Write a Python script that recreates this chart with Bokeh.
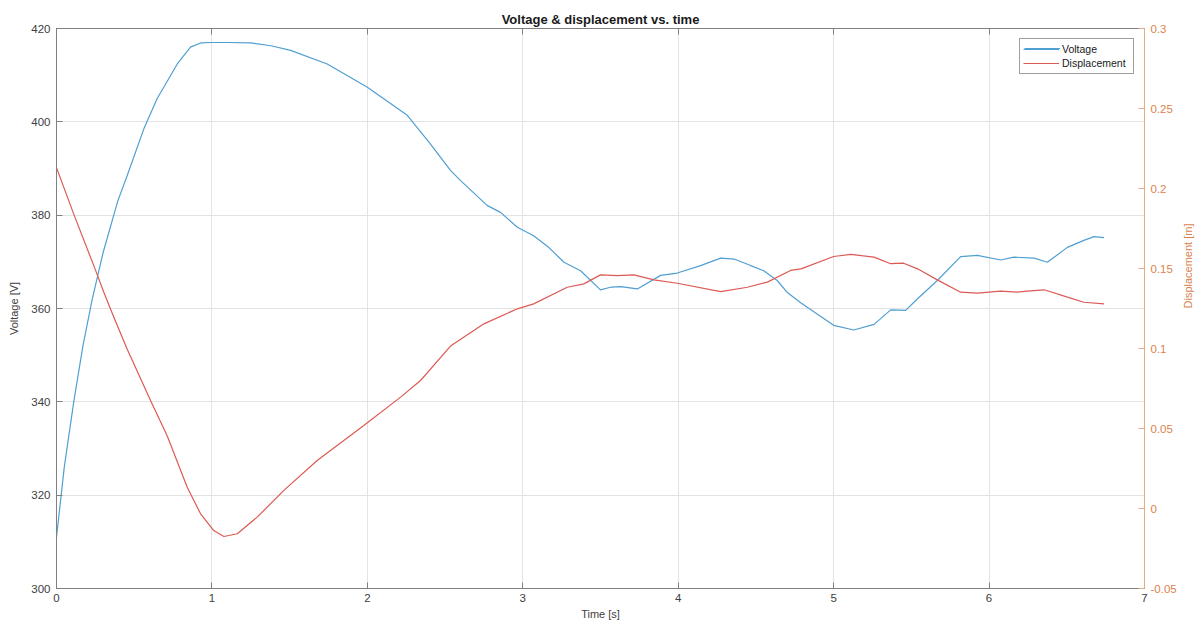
import math
from bokeh.plotting import figure
from bokeh.models import (Range1d, LinearAxis, FixedTicker, CustomJSTickFormatter,
                          Legend, LegendItem)
from bokeh.embed import file_html
from bokeh.resources import INLINE

# ---- data ----
volt_t = [0, 0.05, 0.111, 0.17, 0.23, 0.30, 0.394, 0.455, 0.562, 0.648, 0.777, 0.862,
          0.927, 1.0, 1.1, 1.248, 1.38, 1.506, 1.742, 2.0, 2.257, 2.4, 2.535, 2.6,
          2.77, 2.857, 2.965, 3.07, 3.17, 3.265, 3.372, 3.5, 3.57, 3.63, 3.737, 3.887,
          3.994, 4.144, 4.273, 4.36, 4.466, 4.55, 4.637, 4.70, 4.79, 5.0, 5.13, 5.26,
          5.367, 5.463, 5.54, 5.667, 5.817, 5.925, 6.075, 6.16, 6.29, 6.375, 6.504,
          6.61, 6.675, 6.74]
voltage = [311, 326, 340, 352, 362, 372, 383, 388.5, 398.5, 405.0, 412.4, 416,
           416.9, 417, 417, 416.9, 416.3, 415.3, 412.4, 407.4, 401.4, 395.5, 389.6, 387.4,
           382.1, 380.6, 377.4, 375.6, 373, 369.9, 368.1, 364, 364.6, 364.7, 364.2, 367.1,
           367.6, 369.2, 370.8, 370.6, 369.2, 368.1, 366, 363.5, 361.2, 356.4, 355.4, 356.6,
           359.7, 359.6, 362.1, 366, 371.1, 371.4, 370.4, 371, 370.8, 369.9, 373.1,
           374.6, 375.4, 375.2]

disp_t = [0, 0.111, 0.251, 0.305, 0.369, 0.455, 0.605, 0.712, 0.841, 0.927, 1.012,
          1.077, 1.163, 1.291, 1.463, 1.677, 1.977, 2.214, 2.342, 2.535, 2.75, 2.965,
          3.07, 3.286, 3.393, 3.5, 3.608, 3.715, 3.844, 3.994, 4.273, 4.445, 4.573,
          4.723, 4.79, 5.0, 5.11, 5.26, 5.367, 5.45, 5.54, 5.667, 5.817, 5.925, 6.075,
          6.18, 6.246, 6.354, 6.504, 6.61, 6.74]
displacement = [0.213, 0.184, 0.149, 0.135, 0.1195, 0.0995, 0.0675, 0.0455, 0.0133, -0.0033, -0.0138,
                -0.0175, -0.0158, -0.0054, 0.0113, 0.03, 0.0519, 0.0696, 0.08, 0.1015, 0.1154, 0.1248,
                0.1279, 0.1383, 0.1404, 0.146, 0.1456, 0.146, 0.1429, 0.1408, 0.1356, 0.1383, 0.1415,
                0.1488, 0.1498, 0.1575, 0.1588, 0.1571, 0.153, 0.1533, 0.1498, 0.1429, 0.1352, 0.1346, 0.1358,
                0.1352, 0.1358, 0.1367, 0.1321, 0.1289, 0.1279]

x_ticks = [0, 1, 2, 3, 4, 5, 6, 7]
v_ticks = [300, 320, 340, 360, 380, 400, 420]
d_ticks = [-0.05, 0, 0.05, 0.1, 0.15, 0.2, 0.25, 0.3]

title_text = "Voltage & displacement vs. time"
FONT = "Liberation Sans"
BLUE = "#4f9fd2"
RED = "#dc5a55"
AX = "#808080"
TXT = "#404040"
ORANGE_TXT = "#d9844f"
ORANGE_AX = "#e0ad85"

p = figure(width=1203, height=627, output_backend="svg", toolbar_location=None,
           x_range=Range1d(0, 7), y_range=Range1d(300, 420),
           min_border_left=56, min_border_right=59, min_border_top=28, min_border_bottom=39,
           title=title_text)
p.extra_y_ranges = {"disp": Range1d(-0.05, 0.3)}

p.title.align = "center"
p.title.text_font = FONT
p.title.text_font_size = "13px"
p.title.text_font_style = "bold"
p.title.text_color = "#1a1a1a"
p.title.standoff = 4

p.outline_line_color = AX
p.background_fill_color = "white"
p.border_fill_color = "white"

def style_axis(ax, color, txt):
    ax.axis_line_color = color
    ax.major_tick_line_color = color
    ax.minor_tick_line_color = None
    ax.major_tick_in = 6
    ax.major_tick_out = 0
    ax.major_label_text_font = FONT
    ax.major_label_text_font_size = "11.5px"
    ax.major_label_text_color = txt
    ax.axis_label_text_font = FONT
    ax.axis_label_text_font_size = "11px"
    ax.axis_label_text_font_style = "normal"
    ax.axis_label_text_color = txt

# bottom axis
xa = p.xaxis[0]
xa.ticker = FixedTicker(ticks=x_ticks)
xa.axis_label = "Time [s]"
style_axis(xa, AX, TXT)
xa.major_label_standoff = 5
xa.axis_label_standoff = 3

# left axis
ya = p.yaxis[0]
ya.ticker = FixedTicker(ticks=v_ticks)
ya.axis_label = "Voltage [V]"
style_axis(ya, AX, TXT)
ya.major_label_standoff = 6
ya.axis_label_standoff = 8

# right axis
ra = LinearAxis(y_range_name="disp", ticker=FixedTicker(ticks=d_ticks),
                formatter=CustomJSTickFormatter(code="return String(Math.round(tick*100)/100);"),
                axis_label="Displacement [m]")
style_axis(ra, ORANGE_AX, ORANGE_TXT)
ra.major_label_standoff = 6
ra.axis_label_standoff = 8
if "axis_label_orientation" in LinearAxis.properties():
    ra.axis_label_orientation = math.pi / 2
p.add_layout(ra, "right")

# top axis (ticks only)
ta = LinearAxis(ticker=FixedTicker(ticks=x_ticks),
                formatter=CustomJSTickFormatter(code="return '';"))
style_axis(ta, AX, TXT)
ta.major_label_standoff = 0
p.add_layout(ta, "above")

p.xgrid.ticker = FixedTicker(ticks=x_ticks)
p.ygrid.ticker = FixedTicker(ticks=v_ticks)
p.xgrid.grid_line_color = "#e3e3e3"
p.ygrid.grid_line_color = "#e3e3e3"

r_v = p.line(volt_t, voltage, line_color=BLUE, line_width=1.2)
r_d = p.line(disp_t, displacement, line_color=RED, line_width=1.2, y_range_name="disp")


def make_legend(items, framed):
    lg = Legend(items=items)
    lg.location = "top_right"
    lg.margin = 10
    lg.padding = 3
    lg.spacing = 0
    lg.glyph_width = 36
    lg.glyph_height = 14
    lg.label_height = 14
    lg.label_width = 68
    lg.label_standoff = 3
    lg.label_text_font = FONT
    lg.label_text_font_size = "10.5px"
    lg.label_text_color = "#1a1a1a"
    lg.border_line_width = 1
    if framed:
        lg.border_line_color = "#404040"
        lg.background_fill_color = "white"
        lg.background_fill_alpha = 1
    else:
        lg.border_line_color = "white"
        lg.border_line_alpha = 0
        lg.background_fill_alpha = 0
    return lg

# full legend (box, both labels, displacement glyph)
p.add_layout(make_legend([LegendItem(label="Voltage", renderers=[r_v]),
                          LegendItem(label="Displacement", renderers=[r_d])], True))
# single-item overlay so the voltage glyph keeps its own colour
p.add_layout(make_legend([LegendItem(label=" ", renderers=[r_v])], False))

open("out.html", "w").write(file_html(p, INLINE))
